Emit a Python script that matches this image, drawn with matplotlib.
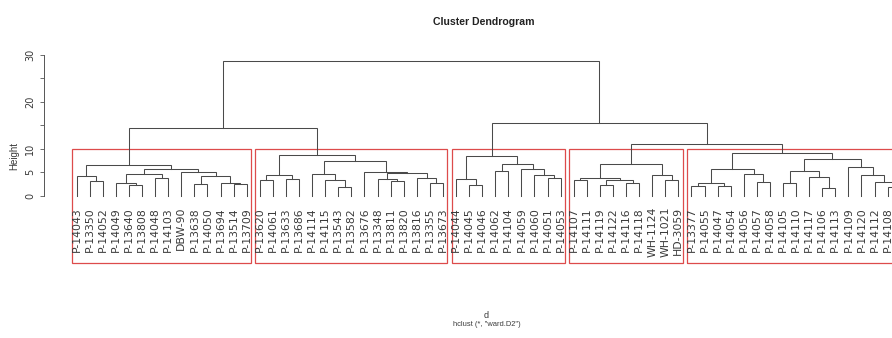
import matplotlib
matplotlib.use('Agg')
import matplotlib.pyplot as plt
from matplotlib.patches import Rectangle

# Clusters as nested (left, right, height) merges, leaves are sample names
c1 = (("P-14043", ("P-13350", "P-14052", 3.2), 4.2),
      ((("P-14049", ("P-13640", "P-13808", 2.2), 2.7), ("P-14048", "P-14103", 3.7), 4.7),
       ("DBW-90", (("P-13638", "P-14050", 2.5),
                   ("P-13694", ("P-13514", "P-13709", 2.45), 2.6), 4.2), 5.1),
       5.6),
      6.5)

c2 = ((("P-13620", "P-14061", 3.3), ("P-13633", "P-13686", 3.5), 4.3),
      (("P-14114", ("P-14115", ("P-13543", "P-13582", 1.9), 3.3), 4.6),
       ("P-13676", (("P-13348", ("P-13811", "P-13820", 3.2), 3.5),
                    ("P-13816", ("P-13355", "P-13673", 2.8), 3.7), 4.8), 5.1),
       7.4),
      8.6)

c3 = (("P-14044", ("P-14045", "P-14046", 2.2), 3.5),
      (("P-14062", "P-14104", 5.2),
       ("P-14059", ("P-14060", ("P-14051", "P-14053", 3.7), 4.5), 5.6), 6.7),
      8.4)

c4 = ((("P-14107", "P-14111", 3.3),
       (("P-14119", "P-14122", 2.2), ("P-14116", "P-14118", 2.6), 3.4), 3.7),
      ("WH-1124", ("WH-1021", "HD-3059", 3.3), 4.4),
      6.7)

c5 = (((("P-13377", "P-14055", 2.1), ("P-14047", "P-14054", 2.1), 2.7),
       ("P-14056", ("P-14057", "P-14058", 3.0), 4.6), 5.6),
      ((("P-14105", "P-14110", 2.8), ("P-14117", ("P-14106", "P-14113", 1.6), 4.0), 5.2),
       ("P-14109", ("P-14120", ("P-14112", ("P-14108", "P-14121", 1.9), 3.0), 4.4), 6.1),
       7.9),
      9.0)

clusters = [c1, c2, c3, c4, c5]
# heights of the upper merges: (c1,c2), (c4,c5), (c3,(c4,c5)), root
upper_heights = [14.4, 11.0, 15.5, 28.8]

line_col = '#4a4a4a'
rect_col = '#dd4b4b'
text_col = '#3a3a3a'
arial = ['Liberation Sans', 'DejaVu Sans']

fig = plt.figure(figsize=(8.92, 3.38), dpi=100)
ax = fig.add_axes([43.7 / 892, 1 - 262.7 / 338, 890 / 892, (262.7 - 50.3) / 338])

leaves = []


def draw(node):
    # returns (x, height) of the node, drawing its branches
    if isinstance(node, str):
        x = len(leaves)
        leaves.append(node)
        return x, 0.0
    left, right, h = node
    xl, hl = draw(left)
    xr, hr = draw(right)
    ax.plot([xl, xl, xr, xr], [hl, h, h, hr], color=line_col, lw=0.75,
            solid_joinstyle='miter')
    return (xl + xr) / 2.0, h


tree = ((c1, c2, upper_heights[0]),
        (c3, (c4, c5, upper_heights[1]), upper_heights[2]),
        upper_heights[3])
draw(tree)

ymin, ymax = -14.3, 31
for i, name in enumerate(leaves):
    ax.text(i, -2.4, name, rotation=90, ha='center', va='top',
            fontsize=7.8, color=text_col)


def count(node):
    if isinstance(node, str):
        return 1
    return count(node[0]) + count(node[1])


# rect.hclust style boxes, k = 5
all_h = sorted(upper_heights + [c[2] for c in clusters], reverse=True)
rect_top = (all_h[3] + all_h[4]) / 2.0
start = 0
for c in clusters:
    n = count(c)
    ax.add_patch(Rectangle((start - 0.34, ymin), n - 1 + 0.67, rect_top - ymin,
                           fill=False, edgecolor=rect_col, lw=0.9, clip_on=False))
    start += n

ax.set_xlim(-2.52, 65.52)
ax.set_ylim(ymin, ymax)
for s in ['top', 'right', 'bottom']:
    ax.spines[s].set_visible(False)
ax.spines['left'].set_bounds(0, 30)
ax.spines['left'].set_color('#555555')
ax.spines['left'].set_linewidth(0.7)
ax.set_xticks([])
ax.set_yticks([0, 5, 10, 15, 20, 25, 30])
ax.set_yticklabels(['0', '5', '10', '', '20', '', '30'], rotation=90, va='center',
                   fontsize=7, color=text_col)
ax.tick_params(axis='y', length=3, width=0.6, color='#555555', pad=3)

fig.text(484 / 892, 1 - 22 / 338, 'Cluster Dendrogram', ha='center', va='center',
         fontsize=7.6, fontweight='bold', family=arial, color='#222222')
fig.text(14 / 892, 1 - 156 / 338, 'Height', rotation=90, ha='center', va='center',
         fontsize=7, family=arial, color=text_col)
fig.text(486 / 892, 1 - 315 / 338, 'd', ha='center', va='center',
         fontsize=6.5, family=arial, color=text_col)
fig.text(487 / 892, 1 - 325 / 338, 'hclust (*, "ward.D2")', ha='center', va='center',
         fontsize=5.4, family=arial, color=text_col)

fig.savefig('out.png', dpi=100)
